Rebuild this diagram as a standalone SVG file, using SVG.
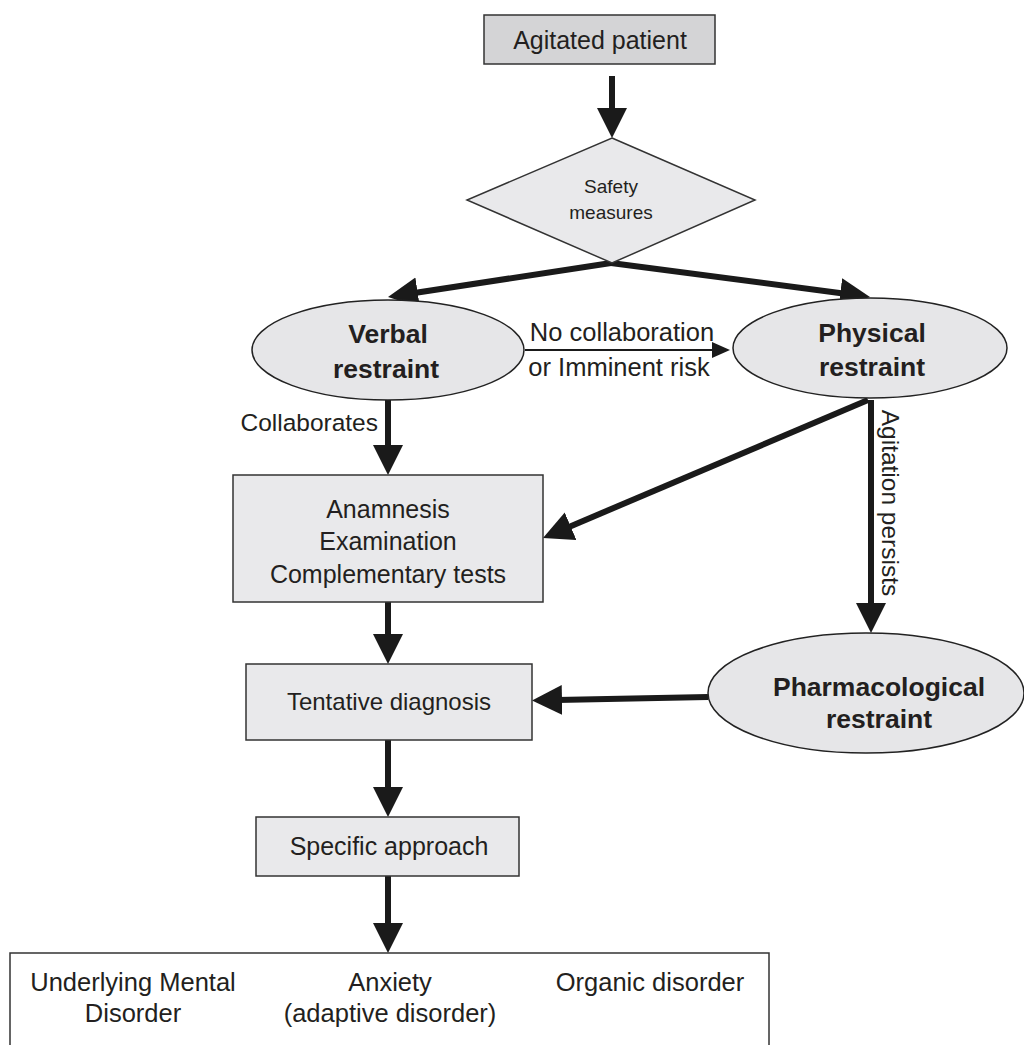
<svg xmlns="http://www.w3.org/2000/svg" width="1024" height="1045" viewBox="0 0 1024 1045">
<style>
.box{fill:#e9e9eb;stroke:#333;stroke-width:1.5}
.dark{fill:#d4d4d6}
.ell{fill:#e6e6e8;stroke:#222;stroke-width:1.5}
.t{font-family:"Liberation Sans",Arial,sans-serif;font-size:25px;fill:#231f20;text-anchor:middle}
.b{font-weight:bold;font-size:26.5px}
.thick{stroke:#1a1a1a;stroke-width:6;fill:none;marker-end:url(#big)}
.thin{stroke:#1a1a1a;stroke-width:2;fill:none;marker-end:url(#small)}
</style>
<defs>
<marker id="big" markerUnits="userSpaceOnUse" markerWidth="32" markerHeight="32" refX="5" refY="15" orient="auto"><path d="M0,0 L30,15 L0,30 z" fill="#1a1a1a"/></marker>
<marker id="small" markerUnits="userSpaceOnUse" markerWidth="20" markerHeight="20" refX="3" refY="8" orient="auto"><path d="M0,0 L18,8 L0,16 z" fill="#1a1a1a"/></marker>
</defs>
<rect width="1024" height="1045" fill="#fff"/>
<g id="connectors">
<line class="thick" x1="612" y1="76" x2="612" y2="113"/>
<line class="thick" x1="611" y1="263" x2="412.7" y2="293.2"/>
<line class="thick" x1="611" y1="263" x2="845.2" y2="293.7"/>
<line class="thin" x1="525" y1="350" x2="715" y2="350"/>
<line class="thick" x1="388" y1="400" x2="388" y2="450"/>
<line class="thick" x1="868" y1="400" x2="566" y2="528.2"/>
<line class="thick" x1="871" y1="400" x2="871" y2="608"/>
<line class="thick" x1="388" y1="602" x2="388" y2="639"/>
<line class="thick" x1="708" y1="697" x2="557" y2="700"/>
<line class="thick" x1="388" y1="740" x2="388" y2="792"/>
<line class="thick" x1="388" y1="876" x2="388" y2="928"/>
<text class="t" x="622" y="341" style="font-size:25.5px">No collaboration</text>
<text class="t" x="619" y="376" style="font-size:25.5px">or Imminent risk</text>
<text class="t" x="378" y="431" style="text-anchor:end;font-size:24.5px">Collaborates</text>
<text class="t" transform="translate(882,503) rotate(90)" style="font-size:24.5px">Agitation persists</text>
</g>
<g id="agitated"><rect class="box dark" x="484" y="15" width="231" height="49"/><text class="t" x="600" y="49">Agitated patient</text></g>
<g id="safety"><polygon class="box" points="612,138 755,200 612,263 467,200"/><text class="t" x="611" y="193" style="font-size:19px">Safety</text><text class="t" x="611" y="219" style="font-size:19px">measures</text></g>
<g id="verbal"><ellipse class="ell" cx="388" cy="350" rx="136" ry="50"/><text class="t b" x="388" y="343">Verbal</text><text class="t b" x="386" y="378">restraint</text></g>
<g id="physical"><ellipse class="ell" cx="870" cy="348" rx="137" ry="50"/><text class="t b" x="872" y="342">Physical</text><text class="t b" x="872" y="376">restraint</text></g>
<g id="anamnesis"><rect class="box" x="233" y="475" width="310" height="127"/><text class="t" x="388" y="518">Anamnesis</text><text class="t" x="388" y="550">Examination</text><text class="t" x="388" y="583">Complementary tests</text></g>
<g id="pharma"><ellipse class="ell" cx="866" cy="693" rx="158" ry="60"/><text class="t b" x="879" y="696">Pharmacological</text><text class="t b" x="879" y="728">restraint</text></g>
<g id="tentative"><rect class="box" x="246" y="664" width="286" height="76"/><text class="t" x="389" y="710" style="font-size:24px">Tentative diagnosis</text></g>
<g id="specific"><rect class="box" x="256" y="817" width="263" height="59"/><text class="t" x="389" y="855">Specific approach</text></g>
<g id="outcomes"><rect x="10" y="953" width="759" height="110" fill="#fff" stroke="#333" stroke-width="1.5"/>
<text class="t" x="133" y="991" style="font-size:25.5px">Underlying Mental</text><text class="t" x="133" y="1022" style="font-size:25.5px">Disorder</text>
<text class="t" x="390" y="991" style="font-size:25.5px">Anxiety</text><text class="t" x="390" y="1022" style="font-size:25.5px">(adaptive disorder)</text>
<text class="t" x="650" y="991" style="font-size:25.5px">Organic disorder</text></g>
</svg>
